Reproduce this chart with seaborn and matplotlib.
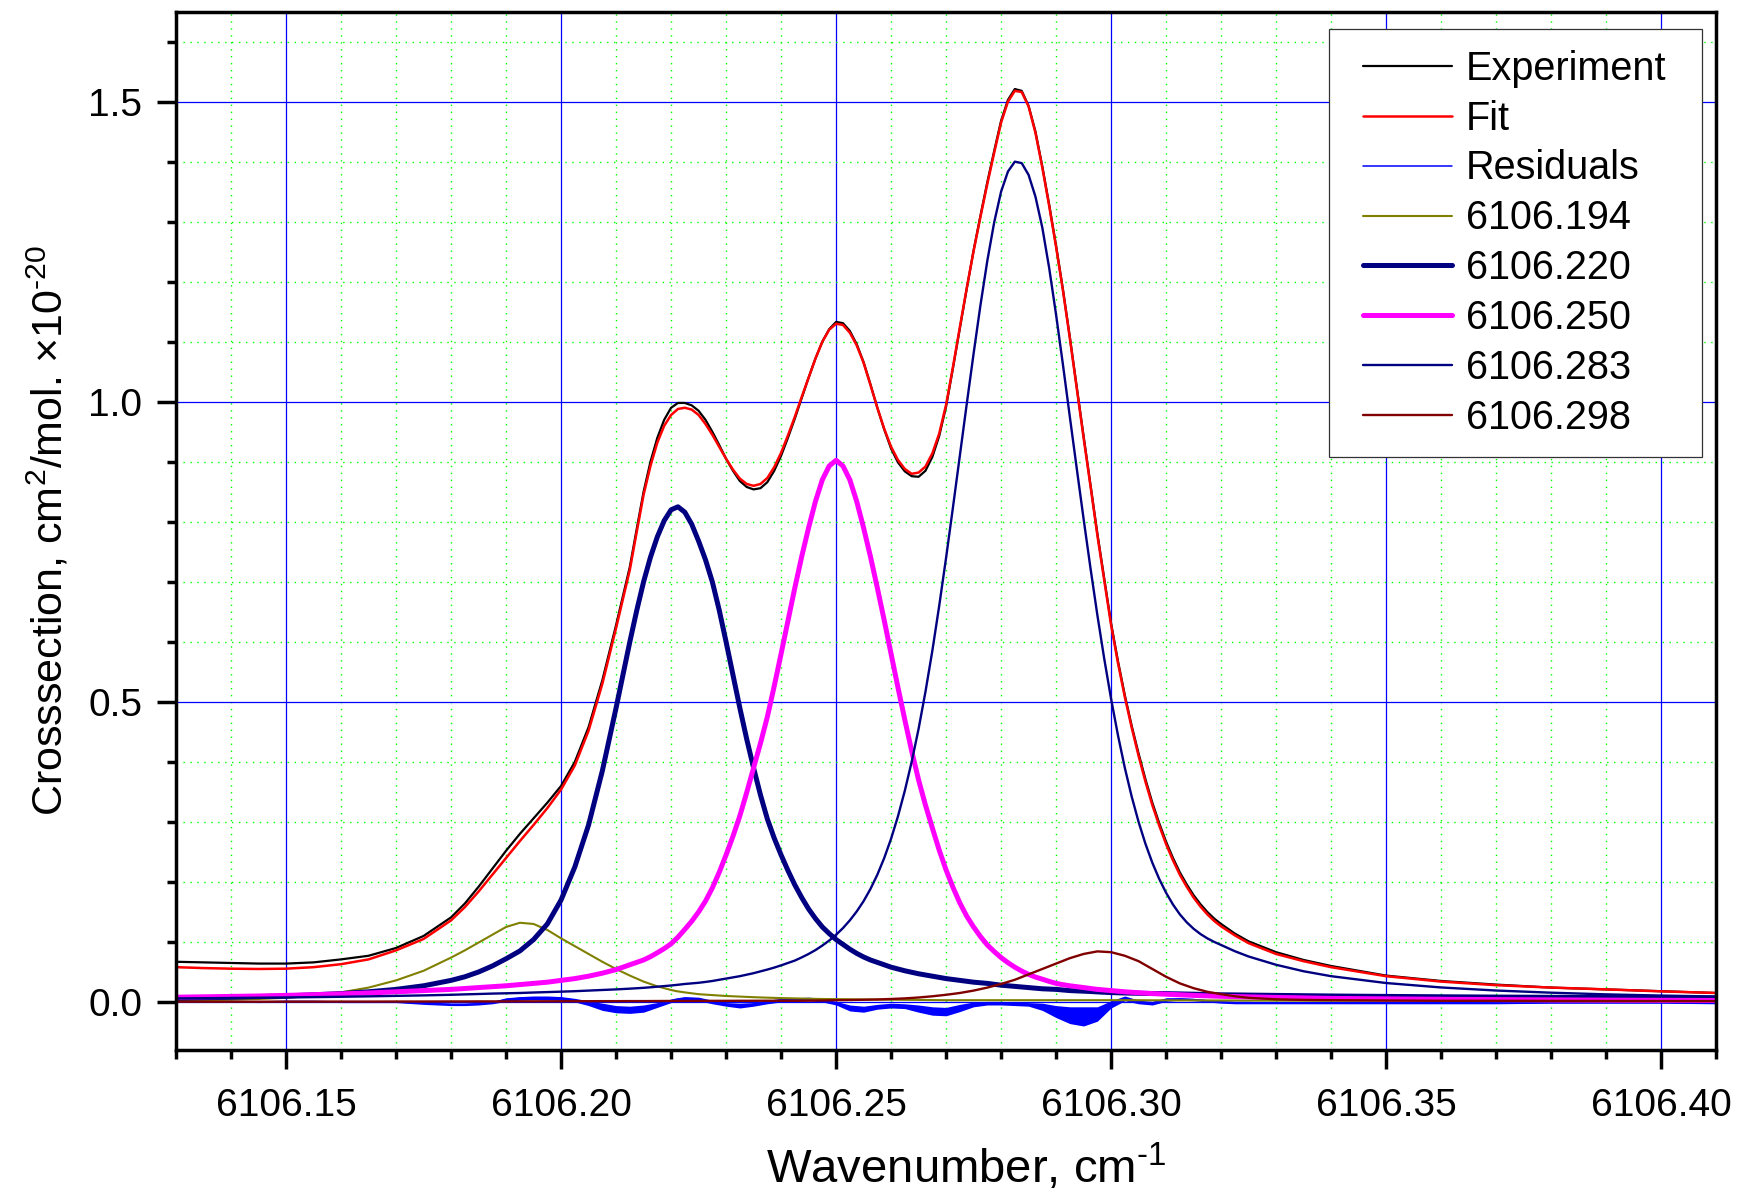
import matplotlib
matplotlib.use("Agg")
import matplotlib.pyplot as plt
import seaborn as sns
from matplotlib.ticker import MultipleLocator, FormatStrFormatter
from matplotlib.legend_handler import HandlerLine2D
from matplotlib.lines import Line2D

# coarse wavenumber grid (cm-1) for the small, smooth traces
wn = [6106.130, 6106.135, 6106.140, 6106.145, 6106.150, 6106.155, 6106.160, 6106.165, 6106.170, 6106.175,
      6106.180, 6106.1825, 6106.185, 6106.1875, 6106.190, 6106.1925, 6106.195, 6106.1975, 6106.200, 6106.2025,
      6106.205, 6106.2075, 6106.210, 6106.2125, 6106.215, 6106.2175, 6106.220, 6106.221, 6106.2225, 6106.225,
      6106.2275, 6106.230, 6106.2325, 6106.235, 6106.2375, 6106.240, 6106.2425, 6106.245, 6106.2475, 6106.250,
      6106.2525, 6106.255, 6106.2575, 6106.260, 6106.2625, 6106.265, 6106.2675, 6106.270, 6106.2725, 6106.275,
      6106.2775, 6106.280, 6106.2825, 6106.285, 6106.2875, 6106.290, 6106.2925, 6106.295, 6106.2975, 6106.300,
      6106.3025, 6106.305, 6106.3075, 6106.310, 6106.3125, 6106.315, 6106.3175, 6106.320, 6106.3225, 6106.325,
      6106.330, 6106.335, 6106.340, 6106.350, 6106.360, 6106.370, 6106.380, 6106.390, 6106.400, 6106.410]

# finer grid for the tall, sharply curved traces
wn_fine = [6106.130, 6106.135, 6106.140, 6106.145, 6106.150, 6106.155, 6106.160, 6106.165, 6106.170, 6106.175,
           6106.180, 6106.1825, 6106.185, 6106.1875, 6106.190, 6106.1925, 6106.195, 6106.1975, 6106.200, 6106.2025,
           6106.205, 6106.2075, 6106.210,
           6106.2125, 6106.21375, 6106.215, 6106.21625, 6106.2175, 6106.21875, 6106.220, 6106.22125, 6106.2225, 6106.22375,
           6106.225, 6106.22625, 6106.2275, 6106.22875, 6106.230, 6106.23125, 6106.2325, 6106.23375, 6106.235, 6106.23625,
           6106.2375, 6106.23875, 6106.240, 6106.24125, 6106.2425, 6106.24375, 6106.245, 6106.24625, 6106.2475, 6106.24875,
           6106.250, 6106.25125, 6106.2525, 6106.25375, 6106.255, 6106.25625, 6106.2575, 6106.25875, 6106.260, 6106.26125,
           6106.2625, 6106.26375, 6106.265, 6106.26625, 6106.2675, 6106.26875, 6106.270, 6106.27125, 6106.2725, 6106.27375,
           6106.275, 6106.27625, 6106.2775, 6106.27875, 6106.280, 6106.28125, 6106.2825, 6106.28375, 6106.285, 6106.28625,
           6106.2875, 6106.28875, 6106.290, 6106.29125, 6106.2925, 6106.29375, 6106.295, 6106.29625, 6106.2975, 6106.29875,
           6106.300, 6106.30125, 6106.3025, 6106.30375, 6106.305, 6106.30625, 6106.3075, 6106.30875, 6106.310, 6106.31125,
           6106.3125, 6106.31375, 6106.315, 6106.31625, 6106.3175, 6106.31875, 6106.320,
           6106.3225, 6106.325, 6106.330, 6106.335, 6106.340, 6106.350, 6106.360, 6106.370, 6106.380, 6106.390,
           6106.400, 6106.410]

experiment = [.067, .066, .065, .064, .064, .066, .071, .077, .090, .110,
              .141, .164, .192, .222, .252, .280, .306, .332, .360, .400,
              .458, .536, .628,
              .725, .788, .850, .900, .940, .970, .990, .998, .998, .994,
              .985, .970, .950, .928, .905, .885, .868, .858, .854, .856,
              .866, .885, .910, .940, .972, 1.006, 1.040, 1.072, 1.100, 1.121,
              1.133, 1.131, 1.118, 1.096, 1.066, 1.029, .990, .954, .922, .899,
              .884, .876, .875, .885, .908, .943, .992, 1.056, 1.122, 1.188,
              1.252, 1.310, 1.366, 1.418, 1.468, 1.503, 1.521, 1.518, 1.493, 1.450,
              1.392, 1.328, 1.260, 1.187, 1.108, 1.025, .943, .862, .781, .706,
              .631, .568, .511, .460, .414, .371, .332, .298, .267, .240,
              .216, .196, .178, .163, .150, .139, .130,
              .114, .101, .083, .070, .060, .044, .035, .029, .024, .021,
              .018, .015]

fit = [.058, .0565, .0555, .055, .0555, .058, .063, .071, .086, .105,
       .136, .158, .184, .212, .240, .268, .295, .323, .354, .394,
       .452, .530, .623,
       .720, .783, .845, .893, .932, .960, .978, .988, .990, .987,
       .978, .963, .945, .925, .905, .887, .872, .863, .860, .863,
       .873, .891, .915, .944, .975, 1.008, 1.040, 1.072, 1.100, 1.120,
       1.130, 1.128, 1.115, 1.094, 1.065, 1.028, .990, .955, .925, .903,
       .888, .880, .882, .892, .914, .947, .995, 1.058, 1.124, 1.189,
       1.251, 1.308, 1.363, 1.415, 1.465, 1.500, 1.518, 1.516, 1.492, 1.448,
       1.390, 1.326, 1.258, 1.185, 1.106, 1.023, .940, .860, .778, .703,
       .628, .565, .508, .457, .410, .367, .328, .294, .263, .236,
       .212, .192, .174, .159, .146, .135, .126,
       .111, .098, .080, .068, .058, .043, .034, .028, .024, .021,
       .0177, .015]

residuals = [.001, .001, .001, .000, .001, .001, .000, .000, .000, -.002,
             -.004, -.004, -.003, -.001, .004, .006, .007, .007, .006, .003,
             -.002, -.008, -.012, -.013, -.011, -.005, .002, .004, .006, .005,
             .000, -.004, -.006, -.004, .000, .003, .004, .005, .003, -.002,
             -.010, -.012, -.008, -.006, -.007, -.011, -.015, -.016, -.010, -.004,
             -.002, -.002, -.003, -.004, -.008, -.016, -.022, -.024, -.020, -.004,
             .006, .000, -.002, .004, .005, .004, .002, .000, -.001, -.001,
             -.002, -.002, -.002, -.002, -.002, -.002, -.001, -.001, -.001, -.002]

# half height of the fast ripple seen on the residual trace
ripple = [.001, .001, .001, .001, .001, .001, .001, .001, .001, .002,
          .002, .002, .002, .002, .003, .003, .003, .003, .003, .003,
          .004, .006, .006, .006, .006, .004, .003, .003, .003, .003,
          .003, .003, .004, .003, .003, .003, .003, .003, .003, .003,
          .005, .005, .004, .004, .004, .006, .007, .007, .006, .004,
          .003, .003, .003, .003, .006, .010, .014, .016, .012, .006,
          .004, .003, .003, .003, .002, .002, .002, .002, .002, .002,
          .001, .001, .001, .001, .001, .001, .001, .001, .001, .001]

line_194 = [.002, .003, .004, .005, .007, .010, .016, .024, .036, .052,
            .074, .086, .099, .112, .125, .132, .130, .120, .106, .093,
            .080, .067, .055, .044, .034, .026, .020, .018, .016, .013,
            .0115, .010, .009, .008, .0072, .0065, .006, .0055, .005, .0048,
            .0045, .0042, .004, .0038, .0036, .0034, .0032, .003, .003, .003,
            .003, .003, .003, .003, .003, .003, .003, .003, .003, .003,
            .003, .003, .0028, .0028, .0027, .0027, .0026, .0025, .0025, .0024,
            .0023, .0022, .0021, .002, .0018, .0016, .0014, .0012, .001, .001]

line_220 = [.006, .007, .008, .009, .010, .012, .014, .017, .021, .027,
            .036, .042, .050, .060, .072, .085, .104, .130, .170, .225,
            .295, .385, .490,
            .600, .652, .700, .741, .775, .802, .820, .825, .816, .796,
            .768, .737, .700, .653, .600, .545, .490, .438, .390, .345,
            .305, .273, .245, .219, .195, .174, .155, .139, .125, .114,
            .104, .096, .088, .081, .075, .070, .066, .062, .058, .055,
            .052, .0495, .047, .045, .043, .041, .039, .0375, .036, .0345,
            .033, .032, .031, .0295, .028, .027, .026, .025, .024, .023,
            .022, .0215, .021, .020, .019, .0185, .018, .0175, .0168, .0162,
            .0157, .0153, .0150, .0147, .0145, .0143, .0142, .0141, .014, .0137,
            .0135, .0132, .013, .0127, .0125, .0122, .012,
            .0118, .0115, .011, .0105, .010, .0093, .0087, .0082, .0078, .0074,
            .0071, .0068]

line_250 = [.008, .0086, .0093, .010, .011, .0122, .0135, .015, .017, .019,
            .021, .0225, .024, .0255, .027, .029, .031, .033, .036, .039,
            .043, .048, .054,
            .062, .066, .070, .0755, .082, .089, .097, .108, .121, .1345,
            .150, .168, .190, .216, .245, .276, .310, .349, .390, .431,
            .475, .526, .580, .635, .690, .742, .790, .834, .870, .893,
            .9025, .893, .870, .834, .790, .742, .690, .636, .580, .524,
            .470, .418, .370, .328, .290, .253, .220, .191, .165, .143,
            .125, .109, .095, .084, .074, .0655, .058, .0515, .046, .0415,
            .038, .0343, .031, .0288, .027, .0255, .024, .0225, .021, .020,
            .019, .018, .017, .0162, .0155, .0147, .014, .0135, .013, .0125,
            .012, .0115, .011, .0106, .0102, .0098, .0095,
            .009, .0085, .0076, .0068, .006, .0052, .0045, .004, .0035, .0031,
            .0028, .0025]

line_283 = [.006, .0063, .0067, .0071, .0076, .0081, .0087, .0094, .0102, .011,
            .012, .0127, .0133, .014, .0145, .015, .0158, .0165, .0172, .018,
            .019, .020, .021,
            .0222, .0229, .0236, .0245, .0255, .0265, .0275, .0287, .030, .031,
            .032, .0334, .035, .037, .039, .041, .043, .0455, .048, .051,
            .054, .0573, .061, .065, .069, .0743, .080, .0865, .094, .1024,
            .112, .1231, .136, .1508, .168, .1883, .212, .2398, .272, .3093,
            .352, .4004, .455, .5168, .585, .660, .740, .8241, .910, .9959,
            1.080, 1.1609, 1.235, 1.2991, 1.350, 1.3836, 1.400, 1.3976, 1.378, 1.3417,
            1.290, 1.2226, 1.145, 1.0616, .975, .8894, .805, .7231, .645, .5722,
            .505, .4444, .390, .3421, .300, .2635, .232, .205, .182, .1624,
            .146, .1328, .122, .1132, .106, .1001, .095,
            .0846, .0758, .062, .0512, .043, .0316, .0242, .0191, .0155, .0127,
            .0107, .0091]

line_298 = [.0005, .0005, .0005, .0005, .0006, .0006, .0007, .0007, .0008, .0008,
            .0009, .0009, .001, .001, .001, .0011, .0011, .0012, .0012, .0013,
            .0013, .0014, .0014, .0015, .0015, .0016, .0017, .0017, .0017, .0018,
            .0019, .0019, .002, .002, .0021, .0021, .002, .0022, .0025, .003,
            .0033, .0037, .0042, .005, .006, .0075, .0095, .012, .015, .019,
            .024, .030, .037, .046, .055, .064, .073, .080, .0843, .083,
            .077, .068, .055, .042, .031, .023, .017, .013, .0095, .007,
            .0045, .0035, .003, .0025, .002, .002, .0018, .0017, .0016, .0015]

names = ["Experiment", "Fit", "Residuals", "6106.194", "6106.220", "6106.250", "6106.283", "6106.298"]
colors = ["#000000", "#ff0000", "#0000ff", "#808000", "#000080", "#ff00ff", "#000080", "#800000"]
widths = [1.6, 1.8, 1.1, 1.5, 3.6, 3.6, 1.7, 1.7]

sns.set_style("white")
plt.rcParams['font.family'] = ['Liberation Sans', 'DejaVu Sans']
plt.rcParams['mathtext.fontset'] = 'custom'
plt.rcParams['mathtext.rm'] = 'Liberation Sans'
plt.rcParams['mathtext.it'] = 'Liberation Sans:italic'
plt.rcParams['mathtext.bf'] = 'Liberation Sans:bold'
plt.rcParams['text.color'] = 'black'


class ShiftedLine(HandlerLine2D):
    # leave some blank room left of the legend line, like the Origin legend
    def create_artists(self, legend, orig_handle, xdescent, ydescent, width, height, fontsize, trans):
        cut = 0.13 * width
        return super().create_artists(legend, orig_handle, xdescent - cut, ydescent,
                                      width - cut, height, fontsize, trans)


fig = plt.figure(figsize=(17.52, 11.97), dpi=100)
ax = fig.add_axes([0.1005, 0.1228, 0.8790, 0.8675])

sns.lineplot(x=wn_fine, y=experiment, color=colors[0], linewidth=widths[0], ax=ax, sort=False, legend=False)
sns.lineplot(x=wn_fine, y=fit, color=colors[1], linewidth=widths[1], ax=ax, sort=False, legend=False)
lo = [r - a for r, a in zip(residuals, ripple)]
hi = [r + a for r, a in zip(residuals, ripple)]
ax.fill_between(wn, lo, hi, color=colors[2], linewidth=0)
sns.lineplot(x=wn, y=residuals, color=colors[2], linewidth=widths[2], ax=ax, sort=False, legend=False)
comps = [(wn, line_194), (wn_fine, line_220), (wn_fine, line_250), (wn_fine, line_283), (wn, line_298)]
for i, (xs, ys) in enumerate(comps):
    sns.lineplot(x=xs, y=ys, color=colors[3 + i], linewidth=widths[3 + i], ax=ax, sort=False, legend=False)

ax.set_xlim(6106.13, 6106.41)
ax.set_ylim(-0.08, 1.65)
ax.xaxis.set_major_locator(MultipleLocator(0.05))
ax.xaxis.set_minor_locator(MultipleLocator(0.01))
ax.yaxis.set_major_locator(MultipleLocator(0.5))
ax.yaxis.set_minor_locator(MultipleLocator(0.1))
ax.xaxis.set_major_formatter(FormatStrFormatter('%.2f'))
ax.yaxis.set_major_formatter(FormatStrFormatter('%.1f'))

ax.set_axisbelow(True)
ax.grid(True, which='major', color='#0000ff', linewidth=0.9, linestyle='-')
ax.grid(True, which='minor', color='#00ff00', linewidth=1.0, linestyle=(0, (1, 4)))

for sp in ax.spines.values():
    sp.set_visible(True)
    sp.set_linewidth(2.5)
    sp.set_color('black')

ax.tick_params(which='major', direction='out', length=13.5, width=2.5, labelsize=28,
               colors='black', bottom=True, left=True, top=False, right=False)
ax.tick_params(which='minor', direction='out', length=6.5, width=2.5,
               colors='black', bottom=True, left=True, top=False, right=False)
ax.tick_params(axis='x', which='major', pad=14)
ax.tick_params(axis='y', which='major', pad=11)

ax.set_xlabel(r'Wavenumber, cm$^{\text{-1}}$', fontsize=34, color='black')
ax.xaxis.set_label_coords(0.513, -0.0886)
ax.set_ylabel(r'Crosssection, cm$^{\text{2}}$/mol. ×10$^{\text{-20}}$', fontsize=31, color='black')
ax.yaxis.set_label_coords(-0.068, 0.5)

leg = ax.legend(handles=list(ax.lines), labels=names, loc='upper left', mode='expand',
                bbox_to_anchor=(0.7485, 0.5, 0.2422, 0.4831), borderaxespad=0, fontsize=28.5,
                frameon=True, fancybox=False, edgecolor='#333333', framealpha=1,
                borderpad=0.52, labelspacing=0.3, handlelength=2.59, handletextpad=0.36,
                handler_map={Line2D: ShiftedLine()})
leg.get_frame().set_linewidth(0.9)

fig.savefig('out.png', dpi=100)
